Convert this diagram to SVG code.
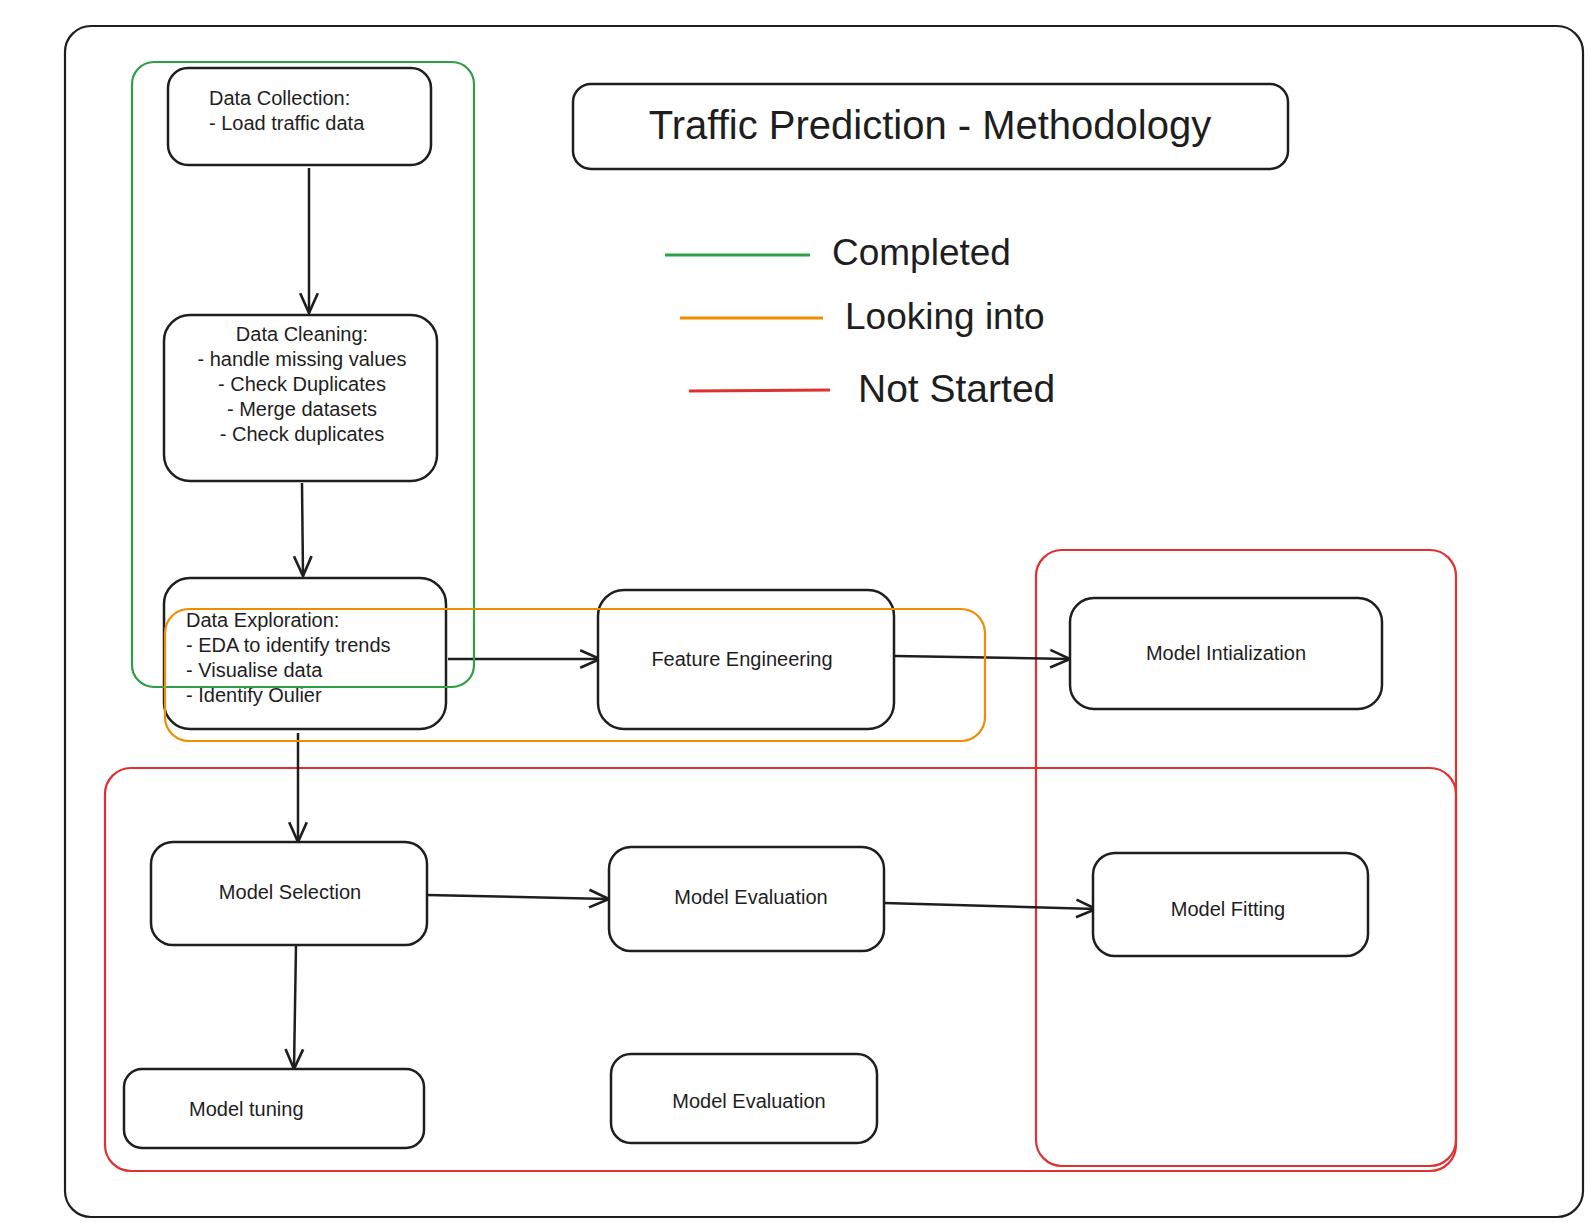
<svg xmlns="http://www.w3.org/2000/svg" width="1594" height="1232" viewBox="0 0 1594 1232">
<style>
.node{fill:#fff;stroke:#1e1e1e;stroke-width:2.5}
.frame{fill:none;stroke:#1e1e1e;stroke-width:2.2}
.grp{fill:none;stroke-width:2.2}
.t{font-family:"Liberation Sans",Arial,sans-serif;font-size:20px;fill:#1e1e1e}
.c{text-anchor:middle}
.edge{fill:none;stroke:#1e1e1e;stroke-width:2.5}
.leg{font-family:"Liberation Sans",Arial,sans-serif;font-size:37px;fill:#1e1e1e}
</style>
<defs>
<marker id="arr" viewBox="0 0 20 20" refX="19" refY="10" markerWidth="22" markerHeight="22" markerUnits="userSpaceOnUse" orient="auto">
<path d="M1,2 L19,10 L1,18" fill="none" stroke="#1e1e1e" stroke-width="2.4"/>
</marker>
</defs>
<rect width="1594" height="1232" fill="#fff"/>
<rect class="frame" x="65" y="26" width="1518" height="1191" rx="26"/>

<g id="title">
<rect class="node" x="573" y="84" width="715" height="85" rx="18"/>
<text class="leg c" x="930" y="139" style="font-size:40px">Traffic Prediction - Methodology</text>
</g>

<g id="legend">
<line x1="665" y1="255" x2="810" y2="255" stroke="#2f9e44" stroke-width="3"/>
<text class="leg" x="832" y="265">Completed</text>
<line x1="680" y1="318" x2="823" y2="318" stroke="#f08c00" stroke-width="3"/>
<text class="leg" x="845" y="329">Looking into</text>
<line x1="689" y1="391" x2="830" y2="390" stroke="#e03131" stroke-width="3"/>
<text class="leg" x="858" y="402" style="font-size:39px">Not Started</text>
</g>

<g id="groups">
<rect class="grp" stroke="#e03131" x="1036" y="550" width="420" height="616" rx="26"/>
<rect class="grp" stroke="#e03131" x="105" y="768" width="1351" height="403" rx="26"/>
</g>

<g id="connectors">
<line class="edge" x1="309" y1="168" x2="309" y2="313" marker-end="url(#arr)"/>
<line class="edge" x1="302" y1="483" x2="303" y2="576" marker-end="url(#arr)"/>
<line class="edge" x1="448" y1="659" x2="600" y2="659" marker-end="url(#arr)"/>
<line class="edge" x1="895" y1="656" x2="1070" y2="659" marker-end="url(#arr)"/>
<line class="edge" x1="298" y1="733" x2="298" y2="842" marker-end="url(#arr)"/>
<line class="edge" x1="427" y1="895" x2="609" y2="899" marker-end="url(#arr)"/>
<line class="edge" x1="884" y1="903" x2="1096" y2="909" marker-end="url(#arr)"/>
<line class="edge" x1="296" y1="945" x2="294" y2="1069" marker-end="url(#arr)"/>
</g>

<g id="n-collection">
<rect class="node" x="168" y="68" width="263" height="97" rx="20"/>
<text class="t" x="209" y="105">Data Collection:</text>
<text class="t" x="209" y="130">- Load traffic data</text>
</g>

<g id="n-cleaning">
<rect class="node" x="164" y="315" width="273" height="166" rx="26"/>
<text class="t c" x="302" y="341">Data Cleaning:</text>
<text class="t c" x="302" y="366">- handle missing values</text>
<text class="t c" x="302" y="391">- Check Duplicates</text>
<text class="t c" x="302" y="416">- Merge datasets</text>
<text class="t c" x="302" y="441">- Check duplicates</text>
</g>

<g id="n-exploration">
<rect class="node" x="164" y="578" width="282" height="151" rx="26"/>
<text class="t" x="186" y="627">Data Exploration:</text>
<text class="t" x="186" y="652">- EDA to identify trends</text>
<text class="t" x="186" y="677">- Visualise data</text>
<text class="t" x="186" y="702">- Identify Oulier</text>
</g>

<g id="n-feature">
<rect class="node" x="598" y="590" width="296" height="139" rx="26"/>
<text class="t c" x="742" y="666">Feature Engineering</text>
</g>

<g id="n-init">
<rect class="node" x="1070" y="598" width="312" height="111" rx="24"/>
<text class="t c" x="1226" y="660">Model Intialization</text>
</g>

<g id="n-selection">
<rect class="node" x="151" y="842" width="276" height="103" rx="22"/>
<text class="t c" x="290" y="899">Model Selection</text>
</g>

<g id="n-eval1">
<rect class="node" x="609" y="847" width="275" height="104" rx="22"/>
<text class="t c" x="751" y="904">Model Evaluation</text>
</g>

<g id="n-fitting">
<rect class="node" x="1093" y="853" width="275" height="103" rx="22"/>
<text class="t c" x="1228" y="916">Model Fitting</text>
</g>

<g id="n-tuning">
<rect class="node" x="124" y="1069" width="300" height="79" rx="18"/>
<text class="t" x="189" y="1116">Model tuning</text>
</g>

<g id="n-eval2">
<rect class="node" x="611" y="1054" width="266" height="89" rx="20"/>
<text class="t c" x="749" y="1108">Model Evaluation</text>
</g>

<g id="status-overlays">
<rect class="grp" stroke="#2f9e44" x="132" y="62" width="342" height="625" rx="22"/>
<rect class="grp" stroke="#f08c00" x="165" y="609" width="820" height="132" rx="24"/>
</g>
</svg>
